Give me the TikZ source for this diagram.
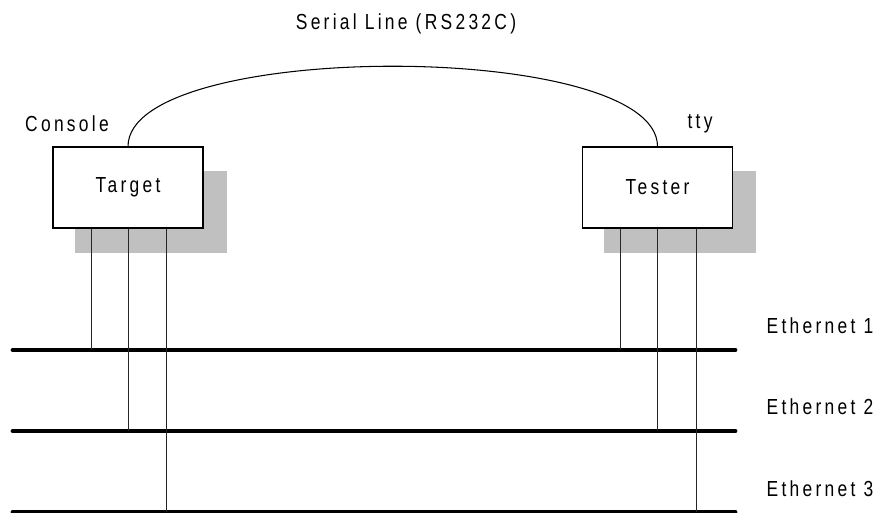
\documentclass[tikz,border=0pt]{standalone}
\usepackage{fontspec}
\setmainfont{Liberation Sans}[FakeStretch=0.8,LetterSpace=15]
\definecolor{shadowgray}{RGB}{192,192,192}

\begin{document}
\begin{tikzpicture}[x=0.02cm, y=-0.02cm,
  font=\fontsize{12.4}{14}\selectfont,
  hostbox/.style={draw=black, fill=white, rectangle, line width=0.6pt,
    minimum width=3cm, minimum height=1.62cm, inner sep=0pt},
  hostshadow/.style={fill=shadowgray, rectangle,
    minimum width=3.04cm, minimum height=1.64cm, inner sep=0pt},
  tap/.style={line width=0.5pt, draw=black!85},
  ethernet/.style={line width=2.8pt, line cap=round}]
\useasboundingbox (0,0) rectangle (878,513);

\node (serial) at (406,24) {Serial Line (RS232C)};
\node (console) at (67,124) {Console};
\node (tty) at (700,124) {tty};

\node[hostshadow] (targetshadow) at (151,212) {};
\node[hostshadow] (testershadow) at (680,212) {};
\node[hostbox] (target) at (128,187.5) {Target};
\node[hostbox] (tester) at (657.5,187.5) {Tester};

\draw[line width=0.6pt] (target.north) .. controls +(0,-107) and +(0,-107) .. (tester.north);

% ethernet segments
\coordinate (eth1w) at (13,350);
\coordinate (eth1e) at (735,350);
\coordinate (eth2w) at (13,431);
\coordinate (eth2e) at (735,431);
\coordinate (eth3w) at (13,512);
\coordinate (eth3e) at (735,512);
\draw[ethernet] (eth1w) -- (eth1e);
\draw[ethernet] (eth2w) -- (eth2e);
\draw[ethernet] (eth3w) -- (eth3e);

\node (eth1) at (820,326) {Ethernet 1};
\node (eth2) at (820,407) {Ethernet 2};
\node (eth3) at (820,489) {Ethernet 3};

% taps
\coordinate (ta1) at (91,350);
\coordinate (ta2) at (128,431);
\coordinate (ta3) at (166,512);
\coordinate (te1) at (620,350);
\coordinate (te2) at (657,431);
\coordinate (te3) at (696,512);
\draw[tap] (ta1 |- target.south) -- (ta1);
\draw[tap] (ta2 |- target.south) -- (ta2);
\draw[tap] (ta3 |- target.south) -- (ta3);
\draw[tap] (te1 |- tester.south) -- (te1);
\draw[tap] (te2 |- tester.south) -- (te2);
\draw[tap] (te3 |- tester.south) -- (te3);

\end{tikzpicture}
\end{document}
